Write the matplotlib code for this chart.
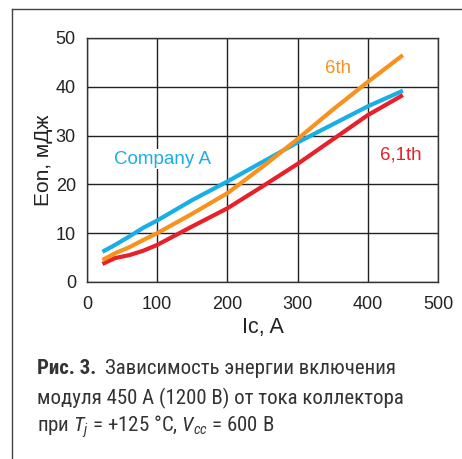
import matplotlib.pyplot as plt
from matplotlib.lines import Line2D

# collector current, A
ic = [22, 40, 60, 80, 100, 150, 200, 250, 300, 350, 400, 450]

# turn-on energy, mJ
company_a = [6.2, 7.6, 9.3, 11.1, 12.6, 16.8, 20.6, 24.6, 28.6, 32.3, 36.0, 39.2]
gen_6th = [4.5, 5.9, 7.1, 8.6, 10.0, 14.0, 18.2, 23.6, 29.3, 35.3, 41.0, 46.5]
gen_61th = [3.7, 4.9, 5.5, 6.4, 7.6, 11.4, 15.1, 19.6, 24.2, 29.2, 34.2, 38.3]

xticks = [0, 100, 200, 300, 400, 500]
yticks = [0, 10, 20, 30, 40, 50]

BLUE = "#19aee6"
ORANGE = "#f7921e"
RED = "#e8202a"

plt.rcParams["font.family"] = ["Liberation Sans", "DejaVu Sans"]
plt.rcParams["mathtext.fontset"] = "custom"
plt.rcParams["mathtext.rm"] = "Roboto Condensed"
plt.rcParams["mathtext.it"] = "Roboto Condensed:italic"

fig = plt.figure(figsize=(4.62, 4.59), dpi=100)
W, H = 462, 459
ax = fig.add_axes([87 / W, 1 - 282 / H, (438 - 87) / W, (282 - 38) / H])

ax.plot(ic, company_a, color=BLUE, lw=3.0, solid_capstyle="butt", zorder=3)
ax.plot(ic, gen_61th, color=RED, lw=3.0, solid_capstyle="butt", zorder=3)
ax.plot(ic, gen_6th, color=ORANGE, lw=3.0, solid_capstyle="butt", zorder=4)

ax.set_xlim(0, 500)
ax.set_ylim(0, 50)
ax.set_xticks(xticks)
ax.set_yticks(yticks)
ax.grid(True, color="#222222", lw=1.0)
ax.set_axisbelow(True)
for sp in ax.spines.values():
    sp.set_color("#333333")
    sp.set_linewidth(1.0)
ax.tick_params(length=0, labelsize=13, colors="#222222")
ax.tick_params(axis="x", pad=10)
ax.tick_params(axis="y", pad=8)
ax.set_xlabel("Ic, A", fontsize=15.5, color="#222222", labelpad=3)
ax.set_ylabel("Eon, мДж", fontsize=15, color="#222222", labelpad=2)

ax.text(108, 25.2, "Company A", color=BLUE, fontsize=13.5, ha="center", va="center",
        bbox=dict(facecolor="white", edgecolor="none", pad=1), zorder=2)
ax.text(357, 43.7, "6th", color=ORANGE, fontsize=13.5, ha="center", va="center")
ax.text(447, 26.0, "6,1th", color=RED, fontsize=13.5, ha="center", va="center")

# page frame: top and left rules
fig.add_artist(Line2D([12 / W, 1], [1 - 9 / H, 1 - 9 / H], color="#444444", lw=1.0))
fig.add_artist(Line2D([12 / W, 12 / W], [0, 1 - 9 / H], color="#444444", lw=1.0))

# figure caption
cap = dict(fontsize=15, color="#333333", va="center",
           family=["Roboto Condensed", "Roboto", "DejaVu Sans"])
head = fig.text(37 / W, 1 - 368 / H, "Рис. 3.", fontweight="bold", **cap)
fig.canvas.draw()
bb = head.get_window_extent()
fig.text((bb.x1 + 9) / W, 1 - 368 / H, "Зависимость энергии включения", **cap)
fig.text(37 / W, 1 - 398 / H, "модуля 450 А (1200 В) от тока коллектора", **cap)
fig.text(37 / W, 1 - 427 / H, "при $T_j$ = +125 °C, $V_{cc}$ = 600 В", **cap)

fig.savefig("out.png", dpi=100)
